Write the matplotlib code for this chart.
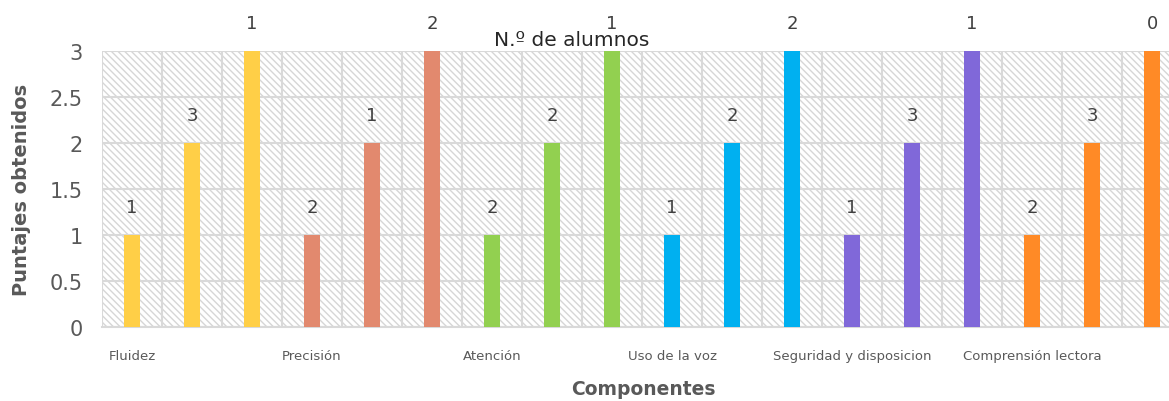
import matplotlib
matplotlib.use('Agg')
import matplotlib.pyplot as plt
import numpy as np
from matplotlib.patches import Rectangle
from matplotlib.ticker import FormatStrFormatter

# datos
componentes = ['Fluidez', 'Precisión', 'Atención', 'Uso de la voz',
               'Seguridad y disposicion', 'Comprensión lectora']
puntajes = [1, 2, 3, 1, 2, 3, 1, 2, 3, 1, 2, 3, 1, 2, 3, 1, 2, 3]
alumnos = [1, 3, 1, 2, 1, 2, 2, 2, 1, 1, 2, 2, 1, 3, 1, 2, 3, 0]
colores_grupo = ['#FFCF47', '#E2896E', '#92D050', '#00B0F0', '#8068D9', '#FF8A26']

colores = [c for c in colores_grupo for _ in range(3)]
etiquetas = []
for comp in componentes:
    etiquetas += [comp, '', '']

plt.rcParams['font.family'] = ['DejaVu Sans']
plt.rcParams['hatch.linewidth'] = 1.0
gris = '#595959'

fig = plt.figure(figsize=(11.69, 4.02), dpi=100)
ax = fig.add_axes([102 / 1169, 74 / 402, 1080 / 1169, 276 / 402])

x = np.arange(len(puntajes))
ax.set_xlim(-0.5, len(puntajes) - 0.5)
ax.set_ylim(0, 3)

# fondo rayado
fondo = Rectangle((0, 0), 1, 1, transform=ax.transAxes, facecolor='white',
                  edgecolor='#d6d6d6', hatch='\\' * 5, linewidth=0, zorder=0)
ax.add_patch(fondo)

barras = ax.bar(x, puntajes, width=0.27, color=colores, zorder=3)
ax.bar_label(barras, labels=[str(a) for a in alumnos], padding=14,
             fontsize=13, color='#404040')

# cuadricula
ax.set_yticks(np.arange(0, 3.01, 0.5))
ax.yaxis.set_major_formatter(FormatStrFormatter('%g'))
ax.set_xticks(x)
ax.set_xticklabels(etiquetas, fontsize=9.5, color=gris)
ax.set_xticks(np.arange(-0.5, len(puntajes), 1), minor=True)
ax.grid(True, which='minor', axis='x', color='#d9d9d9', linewidth=1.5, zorder=1)
ax.grid(True, which='major', axis='y', color='#d9d9d9', linewidth=1.5, zorder=1)
ax.set_axisbelow(True)
ax.tick_params(axis='both', which='both', length=0)
ax.tick_params(axis='y', labelsize=15, labelcolor=gris, pad=14)
ax.tick_params(axis='x', pad=16)
for s in ['top', 'right', 'left']:
    ax.spines[s].set_visible(False)
ax.spines['bottom'].set_color('#d9d9d9')
ax.spines['bottom'].set_linewidth(1.5)

ax.set_ylabel('Puntajes obtenidos', fontsize=14, fontweight='bold', color=gris)
ax.yaxis.set_label_coords(-0.066, 0.5)
fig.text(643 / 1169, 12 / 402, 'Componentes', ha='center', va='center',
         fontsize=13.5, fontweight='bold', color=gris)
fig.text(572 / 1169, 362 / 402, 'N.º de alumnos', ha='center', va='center',
         fontsize=14.5, color='#262626')

fig.savefig('out.png', dpi=100)
